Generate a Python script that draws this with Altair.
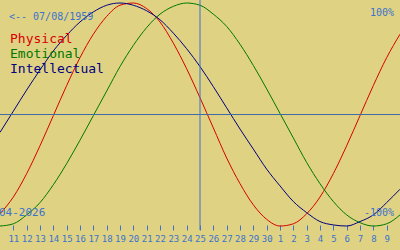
import altair as alt
import pandas as pd

# day index 0..30 (0 = Apr 10, 30 = May 10)
day_index = list(range(31))
physical = [-89, -74, -53, -28, -1, 26, 51, 72, 88, 98, 100, 95, 83, 64, 41, 15,
            -12, -39, -62, -81, -94, -100, -98, -89, -74, -53, -28, -1, 26, 51, 72]
emotional = [-100, -98, -90, -79, -63, -44, -23, -1, 21, 43, 62, 78, 90, 97, 100, 98,
             90, 79, 63, 44, 23, 1, -21, -43, -62, -78, -90, -97, -100, -98, -90]
intellectual = [-16, 3, 22, 40, 57, 71, 83, 92, 98, 100, 98, 93, 85, 73, 59, 43,
                25, 6, -13, -31, -49, -64, -78, -88, -96, -99, -100, -96, -90, -79, -67]
series_names = ["Physical", "Emotional", "Intellectual"]
series_colors = ["#d80000", "#007800", "#000080"]
tick_positions = list(range(1, 30))
tick_labels = [str(d) for d in list(range(11, 31)) + list(range(1, 10))]
today_index = 15

rows = []
for name, vals in zip(series_names, [physical, emotional, intellectual]):
    for i, v in zip(day_index, vals):
        rows.append({"i": i, "v": v, "s": name})
df = pd.DataFrame(rows)

BG = "#e0d283"
BLUE = "#3a72cc"
FONT = "DejaVu Sans Mono"

label_expr = "[" + ",".join("'%s'" % t for t in tick_labels) + "][datum.value - 1]"

xscale = alt.Scale(domain=[0, 30], nice=False, zero=False)
yscale = alt.Scale(domain=[-121.5, 102.7], nice=False, zero=False)

lines = alt.Chart(df).mark_line(strokeWidth=1, interpolate="monotone").encode(
    x=alt.X("i:Q", scale=xscale,
            axis=alt.Axis(orient="bottom", offset=-25, values=tick_positions,
                          tickCount=40, labelExpr=label_expr, domain=False, grid=False,
                          tickSize=5, tickColor=BLUE, tickWidth=1,
                          labelColor=BLUE, labelFont=FONT, labelFontSize=9,
                          labelPadding=4, labelOverlap=False, title=None)),
    y=alt.Y("v:Q", scale=yscale, axis=None),
    color=alt.Color("s:N", scale=alt.Scale(domain=series_names, range=series_colors),
                    legend=None),
)

ref = pd.DataFrame({"i": [today_index], "v": [0]})

midline = alt.Chart(ref).mark_rule(color="#3a6aa8", strokeWidth=1).encode(
    y=alt.Y("v:Q"),
)
today = alt.Chart(ref).mark_rule(color=BLUE, strokeWidth=1).encode(
    x=alt.X("i:Q"), y=alt.value(0), y2=alt.value(230)
)

def txt(s, x, y, color, size, align="left"):
    return alt.Chart(ref).mark_text(text=s, font=FONT, fontSize=size, color=color,
                                    align=align, baseline="alphabetic").encode(
        x=alt.value(x), y=alt.value(y))

texts = [
    txt("<-- 07/08/1959", 9, 20, BLUE, 10),
    txt("100%", 394, 16, BLUE, 10, "right"),
    txt("-100%", 394, 216, BLUE, 10, "right"),
    txt("04-2026", -1, 216, BLUE, 11),
    txt("Physical", 10, 43, series_colors[0], 13),
    txt("Emotional", 10, 58, series_colors[1], 13),
    txt("Intellectual", 10, 73, series_colors[2], 13),
]

chart = alt.layer(lines, midline, today, *texts).properties(
    width=400, height=250, background=BG,
    autosize=alt.AutoSizeParams(type="none"), padding=0,
).configure_view(stroke=None)

chart.save("out.html", embed_options={"renderer": "svg", "actions": False})
